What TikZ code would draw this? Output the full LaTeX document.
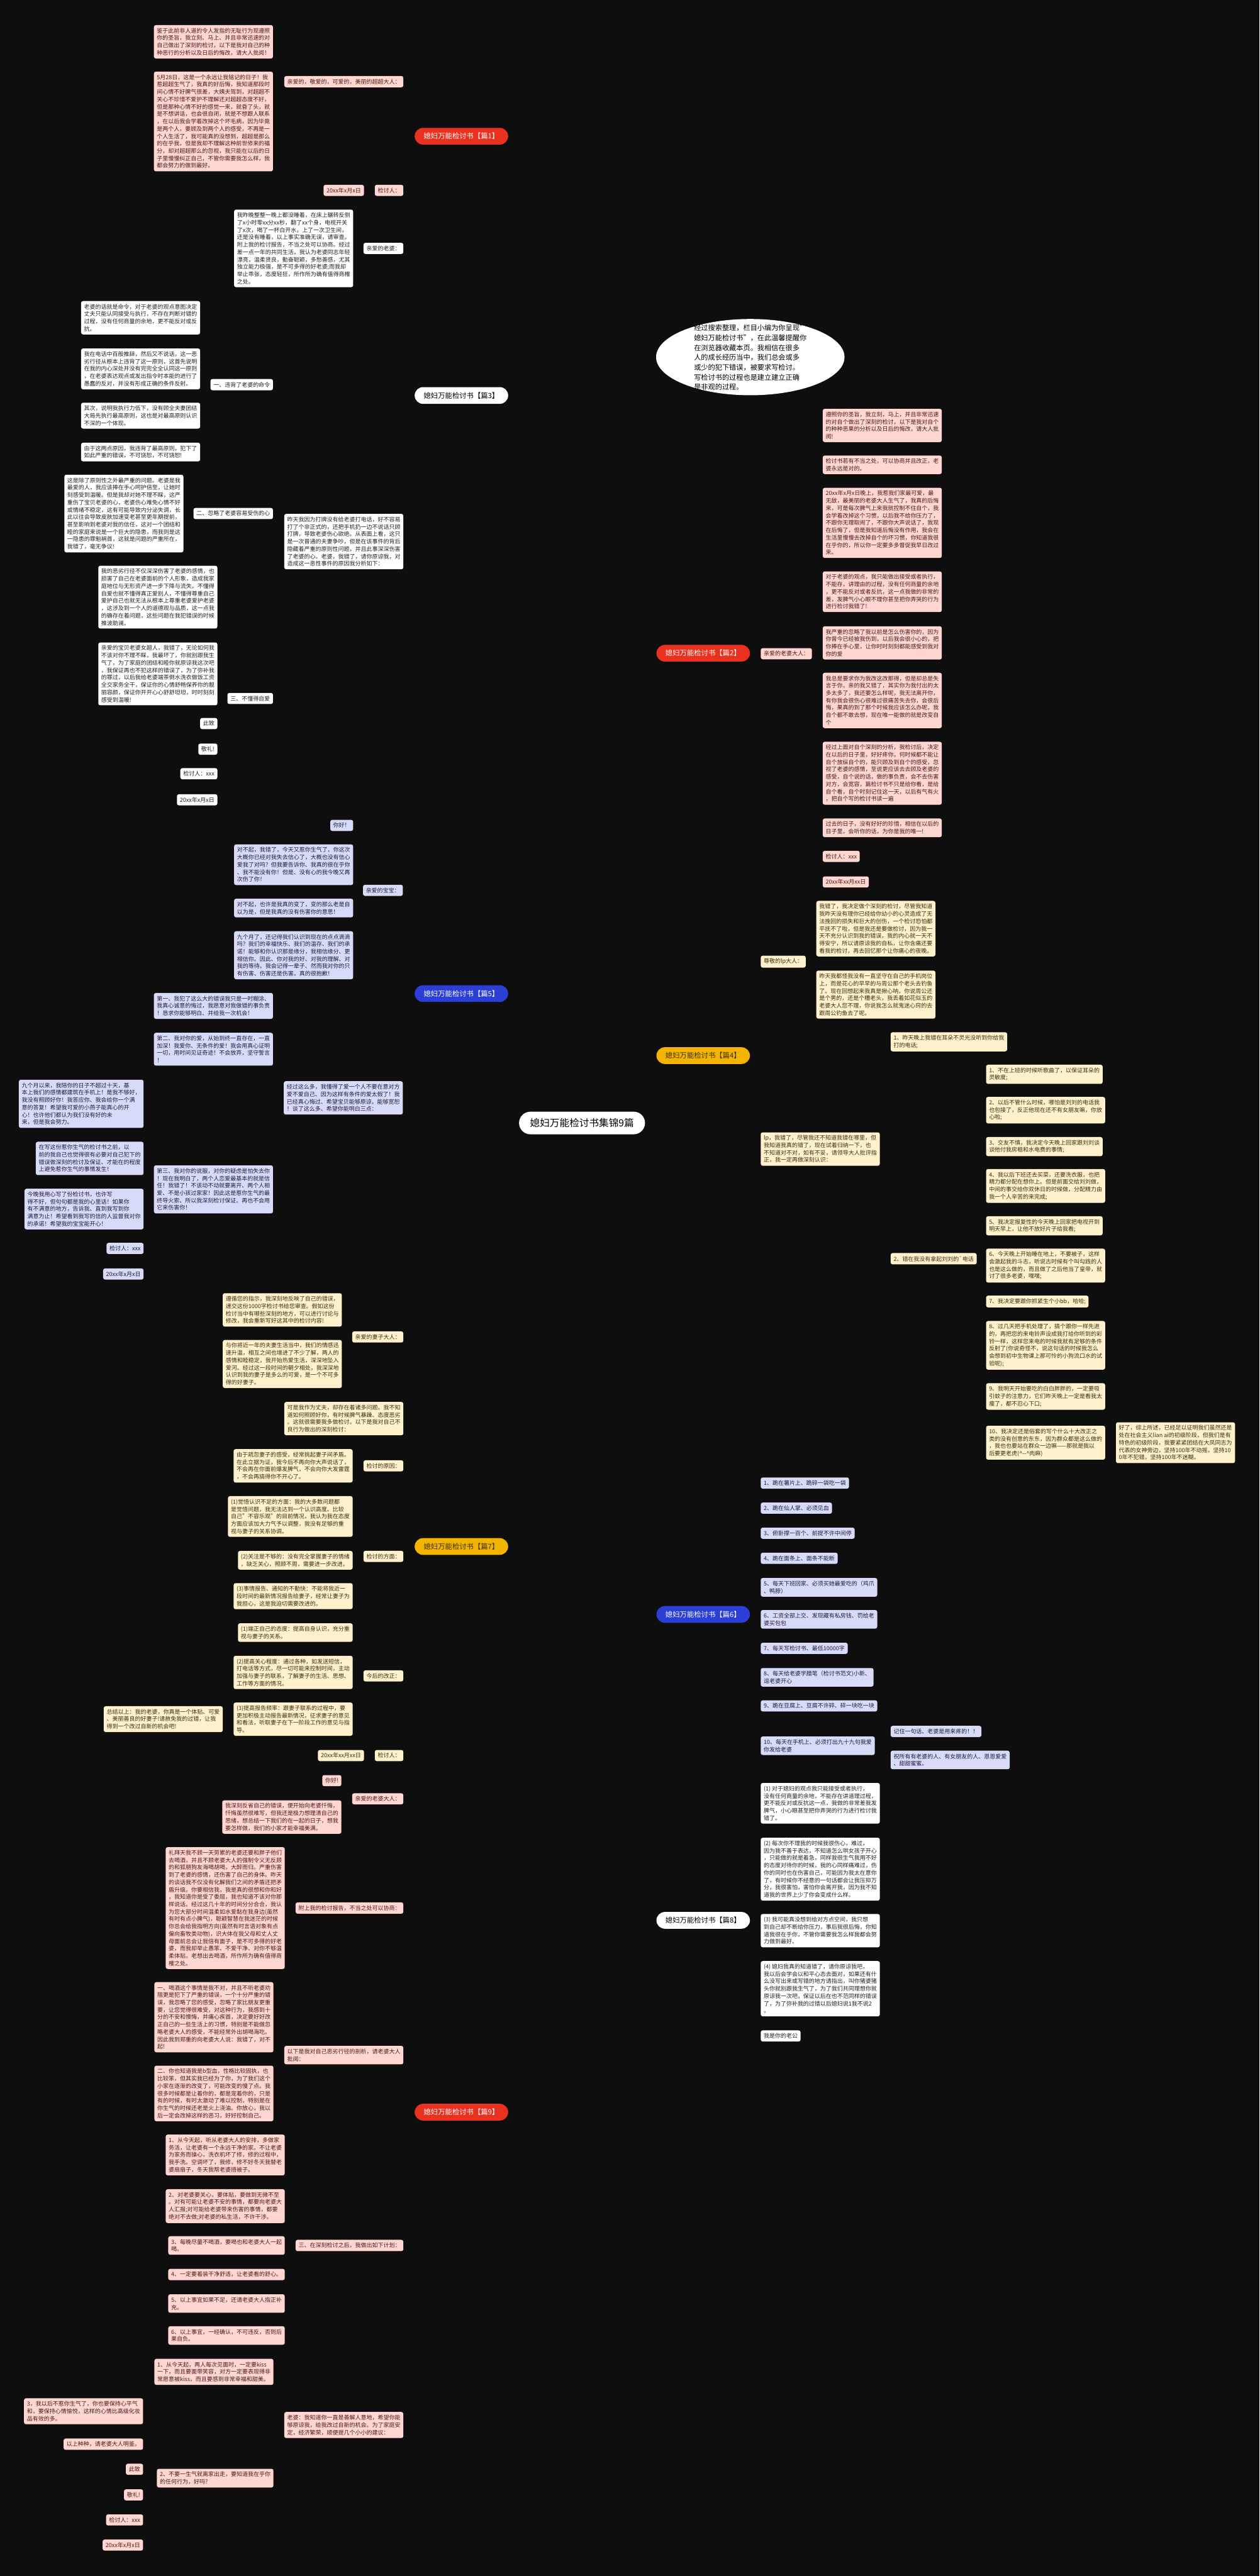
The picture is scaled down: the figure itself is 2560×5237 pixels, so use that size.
\documentclass[tikz,border=0pt]{standalone}
\usepackage{fontspec}
\setmainfont{Noto Sans CJK SC}
\usetikzlibrary{shapes.geometric,calc}
\definecolor{bgc}{HTML}{0E0E0E}
\definecolor{rmain}{HTML}{E8321F}
\definecolor{rline}{HTML}{E23A2A}
\definecolor{rfill}{HTML}{FFD6D1}
\definecolor{rtext}{HTML}{4A1C16}
\definecolor{wline}{HTML}{EEEEEE}
\definecolor{wtext}{HTML}{222222}
\definecolor{bmain}{HTML}{2B3FD6}
\definecolor{bline}{HTML}{3447DB}
\definecolor{bfill}{HTML}{D8DBF8}
\definecolor{btext}{HTML}{1D1D40}
\definecolor{ymain}{HTML}{F2B400}
\definecolor{yline}{HTML}{F0B90C}
\definecolor{yfill}{HTML}{FFF1CC}
\definecolor{ytext}{HTML}{3A2E10}
\newcommand\boxfont{\fontsize{11.5pt}{15pt}\selectfont}
\newcommand\labfont{\fontsize{14.5pt}{18pt}\selectfont}
\newcommand\ellfont{\fontsize{14.3pt}{20pt}\selectfont}
\newcommand\rootfont{\fontsize{20pt}{22pt}\selectfont}
\newcommand\lnkL[4][]{\draw[#1] (#2.west) -- (#3,0 |- #2.west) |- (#4.east);}
\newcommand\lnkR[4][]{\draw[#1] (#2.east) -- (#3,0 |- #2.east) |- (#4.west);}
\pgfdeclarelayer{back}
\pgfsetlayers{back,main}
\tikzset{
 box/.style={rounded corners=4pt, align=left, inner xsep=6pt, inner ysep=6pt, font=\boxfont},
 rb/.style={box, fill=rfill, text=rtext},
 wb/.style={box, fill=white, text=wtext},
 bb/.style={box, fill=bfill, text=btext},
 yb/.style={box, fill=yfill, text=ytext},
 lab/.style={rounded corners=17pt, minimum height=34pt, minimum width=190pt, inner xsep=10pt, font=\labfont},
 rlab/.style={lab, fill=rmain, text=white},
 wlab/.style={lab, fill=white, text=black},
 blab/.style={lab, fill=bmain, text=white},
 ylab/.style={lab, fill=ymain, text=ytext},
 rl/.style={draw=rline, line width=2pt, rounded corners=6pt},
 wl/.style={draw=wline, line width=2pt, rounded corners=6pt},
 bl/.style={draw=bline, line width=2pt, rounded corners=6pt},
 yl/.style={draw=yline, line width=2pt, rounded corners=6pt},
 mainline/.style={line width=2.5pt},
 LE/.style={anchor=east},
 RW/.style={anchor=west},
}
\begin{document}
\begin{tikzpicture}[x=1pt,y=-1pt]
\fill[bgc] (0,0) rectangle (2560,5237);
\useasboundingbox (0,0) rectangle (2560,5237);

% ---------------- root and intro
\node[fill=white, rounded corners=23pt, minimum width=256pt, minimum height=46pt, font=\rootfont, text=black] (root) at (1183,2283) {媳妇万能检讨书集锦9篇};
\node[ellipse, fill=white, minimum width=383pt, minimum height=155pt, inner sep=0pt] (ell) at (1525,726) {};
\node[align=left, font=\ellfont, text=black, inner sep=0pt] (elltext) at (1525,727) {经过搜索整理，栏目小编为你呈现"\\媳妇万能检讨书"，在此温馨提醒你\\在浏览器收藏本页。我相信在很多\\人的成长经历当中，我们总会或多\\或少的犯下错误，被要求写检讨。\\写检讨书的过程也是建立建立正确\\是非观的过程。};

% ---------------- branch labels
\node[rlab, anchor=east] (L1) at (1033,277) {媳妇万能检讨书【篇1】};
\node[wlab, anchor=east] (L3) at (1033,804) {媳妇万能检讨书【篇3】};
\node[blab, anchor=east] (L5) at (1033,2020) {媳妇万能检讨书【篇5】};
\node[ylab, anchor=east] (L7) at (1033,3144) {媳妇万能检讨书【篇7】};
\node[rlab, anchor=east] (L9) at (1033,4294) {媳妇万能检讨书【篇9】};
\node[rlab, anchor=west] (R2) at (1334,1328) {媳妇万能检讨书【篇2】};
\node[ylab, anchor=west] (R4) at (1334,2146) {媳妇万能检讨书【篇4】};
\node[blab, anchor=west] (R6) at (1334,3282) {媳妇万能检讨书【篇6】};
\node[wlab, anchor=west] (R8) at (1334,3904) {媳妇万能检讨书【篇8】};

% ---------------- 篇1
\node[rb, LE] (a1) at (820,166) {亲爱的，敬爱的，可爱的，美丽的超超大人：};
\node[rb, LE] (a11) at (555,85) {鉴于此前非人道的令人发指的无耻行为现遵照\\你的圣旨，我立刻、马上、并且非常迅速的对\\自己做出了深刻的检讨，以下是我对自己的种\\种恶行的分析以及日后的悔改，请大人批阅！};
\node[rb, LE] (a12) at (555,247) {5月28日，这是一个永远让我铭记的日子！我\\惹超超生气了，我真的好后悔，我知道那段时\\间心情不好脾气很差，大姨夫驾到，对超超不\\关心不珍惜不爱护不理解还对超超态度不好，\\但是那种心情不好的感觉一来，就昏了头，就\\是不想讲话，也会很自闭，就是不想跟人联系\\，在以后我会学着改掉这个坏毛病，因为毕竟\\是两个人，要顾及到两个人的感受，不再是一\\个人生活了，我可能真的没想到，超超是那么\\的在乎我，但是我却不理解这种前世修来的福\\分，却对超超那么的忽视，我只能在以后的日\\子里慢慢纠正自己，不管你需要我怎么样，我\\都会努力的做到最好。};
\node[rb, LE] (a2) at (820,387) {检讨人：};
\node[rb, LE] (a21) at (740,387) {20xx年x月x日};

% ---------------- 篇3
\node[wb, LE] (b1) at (820,505) {亲爱的老婆：};
\node[wb, LE] (b11) at (718,505) {我昨晚整整一晚上都没睡着，在床上辗转反侧\\了x小时零xx分xx秒，翻了xx个身，电视开关\\了x次，喝了一杯白开水，上了一次卫生间，\\还是没有睡着，以上事实准确无误，请审查。\\附上我的检讨报告，不当之处可以协商。经过\\差一点一年的共同生活，我认为老婆同志年轻\\漂亮，温柔贤良，勤奋聪颖，多愁善感，尤其\\独立能力极强，是不可多得的好老婆;而我却\\举止乖张，态度轻狂，所作所为确有值得商榷\\之处。};
\node[wb, LE] (b2) at (820,1101) {昨天我因为打牌没有给老婆打电话，好不容易\\打了个非正式的，还把手机扔一边不说话只顾\\打牌，导致老婆伤心欲绝。从表面上看，这只\\是一次普通的夫妻争吵，但是在该事件的背后\\隐藏着严重的原则性问题，并且此事深深伤害\\了老婆的心。老婆，我错了，请你原谅我，对\\造成这一恶性事件的原因我分析如下：};
\node[wb, LE] (b21) at (555,782) {一、违背了老婆的命令};
\node[wb, LE] (b211) at (407,646) {老婆的话就是命令，对于老婆的观点意图决定\\丈夫只能认同接受与执行，不存在判断对错的\\过程，没有任何商量的余地，更不能反对或反\\抗。};
\node[wb, LE] (b212) at (407,750) {我在电话中百般推辞，然后又不说话，这一恶\\劣行径从根本上违背了这一原则，这首先说明\\在我的内心深处并没有完完全全认同这一原则\\，在老婆表达观点或发出指令时本能的进行了\\愚蠢的反对，并没有形成正确的条件反射。};
\node[wb, LE] (b213) at (407,845) {其次，说明我执行力低下，没有顾全夫妻团结\\大局先执行最高原则，这也是对最高原则认识\\不深的一个体现。};
\node[wb, LE] (b214) at (407,919) {由于这两点原因，我违背了最高原则，犯下了\\如此严重的错误，不可饶恕，不可饶恕!};
\node[wb, LE] (b22) at (555,1044) {二、忽略了老婆容易受伤的心};
\node[wb, LE] (b221) at (373,1044) {这是除了原则性之外最严重的问题。老婆是我\\最爱的人，我应该捧在手心呵护倍至，让她时\\刻感受到温暖。但是我却对她不理不睬，这严\\重伤了宝贝老婆的心，老婆伤心难免心情不好\\或情绪不稳定，这有可能导致内分泌失调，长\\此以往会导致皮肤加速变老甚至更年期提前，\\甚至影响到老婆对我的信任，这对一个团结和\\睦的家庭来说是一个巨大的隐患，而我则是这\\一隐患的罪魁祸首，这就是问题的严重所在，\\我错了，毫无争议!};
\node[wb, LE] (b23) at (555,1420) {三、不懂得自爱};
\node[wb, LE] (b231) at (442,1214) {我的恶劣行径不仅深深伤害了老婆的感情，也\\损害了自己在老婆面前的个人形象，造成我家\\庭地位与无形资产进一步下降与流失。不懂得\\自爱也就不懂得真正爱别人，不懂得尊重自己\\爱护自己也就无法从根本上尊重老婆爱护老婆\\，这涉及到一个人的道德观与品质，这一点我\\的确存在着问题，这些问题在我犯错误的时候\\推波助澜。};
\node[wb, LE] (b232) at (442,1370) {亲爱的宝贝老婆女超人，我错了，无论如何我\\不该对你不理不睬，我最坏了，你就别跟我生\\气了，为了家庭的团结和睦你就原谅我这次吧\\，我保证再也不犯这样的错误了，为了弥补我\\的罪过，以后我给老婆端茶倒水洗衣做饭工资\\全交家务全干，保证你的心情舒畅保养你的靓\\丽容颜，保证你开开心心舒舒坦坦，时时刻刻\\感受到温暖!};
\node[wb, LE] (b233) at (442,1471) {此致};
\node[wb, LE] (b234) at (442,1523) {敬礼!};
\node[wb, LE] (b235) at (442,1573) {检讨人：xxx};
\node[wb, LE] (b236) at (442,1626) {20xx年x月x日};

% ---------------- 篇5
\node[bb, LE] (c1) at (819,1810) {亲爱的宝宝：};
\node[bb, LE] (c11) at (718,1678) {你好！};
\node[bb, LE] (c12) at (718,1758) {对不起，我错了，今天又惹你生气了，你这次\\大概你已经对我失去信心了，大概也没有信心\\爱我了对吗？但我要告诉你、我真的很在乎你\\、我不能没有你！但是、没有心的我今晚又再\\次伤了你！};
\node[bb, LE] (c13) at (718,1846) {对不起，也许是我真的变了，变的那么老是自\\以为是，但是我真的没有伤害你的意思！};
\node[bb, LE] (c14) at (718,1942) {九个月了，还记得我们认识到现在的点点滴滴\\吗？我们的幸福快乐、我们的温存、我们的承\\诺！能够和你认识那是缘分，我相信缘分、更\\相信你。因此、你对我的好、对我的理解、对\\我的等待。我会记得一辈子、然而我对你的只\\有伤害、伤害还是伤害。真的很抱歉！};
\node[bb, LE] (c2) at (819,2232) {经过这么多，我懂得了爱一个人不要在意对方\\爱不爱自己、因为这样有条件的爱太假了！我\\已经真心悔过、希望宝贝能够原谅，能够宽恕\\！谈了这么多、希望你能明白三点：};
\node[bb, LE] (c21) at (555,2045) {第一、我犯了这么大的错误我只是一时糊涂、\\我真心诚意的悔过，我愿意对我做错的事负责\\！恳求你能够明白、并给我一次机会！};
\node[bb, LE] (c22) at (555,2133) {第二、我对你的爱，从始到终一直存在，一直\\加深！我爱你、无条件的爱！我会用真心证明\\一切，用时间见证奇迹！不会放弃，坚守誓言\\！};
\node[bb, LE] (c23) at (555,2418) {第三、我对你的说服，对你的疑虑是怕失去你\\！现在我明白了，两个人恋爱最基本的就是信\\任！我错了！不该动不动就要离开、两个人相\\爱、不是小孩过家家！因此这是惹你生气的最\\终导火索、所以我深刻检讨保证、再也不会用\\它来伤害你！};
\node[bb, LE] (c231) at (292,2244) {九个月以来，我陪你的日子不超过十天，基\\本上我们的感情都建筑在手机上！是我不够好，\\我没有照顾好你！我答应你、我会给你一个满\\意的答复！希望我可爱的小燕子能真心的开\\心！也许他们都认为我们没有好的未\\来，但是我会努力。};
\node[bb, LE] (c232) at (292,2355) {在写这份惹你生气的检讨书之前，以\\前的我自己也觉得很有必要对自己犯下的\\错误做深刻的检讨及保证、才能在的程度\\上避免惹你生气的事情发生！};
\node[bb, LE] (c233) at (292,2458) {今晚我用心写了份检讨书，也许写\\得不好，但句句都是我的心里话！如果你\\有不满意的地方，告诉我、直到我写到你\\满意为止！希望看到我写的信的人监督我对你\\的承诺！希望我的宝宝能开心！};
\node[bb, LE] (c234) at (292,2538) {检讨人：xxx};
\node[bb, LE] (c235) at (292,2590) {20xx年x月x日};

% ---------------- 篇7
\node[yb, LE] (d1) at (820,2718) {亲爱的妻子大人：};
\node[yb, LE] (d11) at (695,2663) {遵循您的指示，我深刻地反映了自己的错误，\\递交这份1000字检讨书给您审查。假如这份\\检讨当中有哪些深刻的地方，可以进行讨论与\\修改，我会重新写好这其中的检讨内容!};
\node[yb, LE] (d12) at (695,2773) {与你将近一年的夫妻生活当中，我们的情感迅\\速升温，相互之间也增进了不少了解，两人的\\感情和睦稳定，我开始热爱生活，深深地坠入\\爱河。经过这一段时间的朝夕相处，我深深地\\认识到我的妻子是多么的可爱，是一个不可多\\得的好妻子。};
\node[yb, LE] (d2) at (820,2884) {可是我作为丈夫，却存在着诸多问题。我不知\\道如何照顾好你，有时候脾气暴躁、态度恶劣\\。这就很需要我多做检讨。以下是我对自己不\\良行为做出的深刻检讨：};
\node[yb, LE] (d3) at (820,2980) {检讨的原因：};
\node[yb, LE] (d31) at (717,2980) {由于疏忽妻子的感受，经常挑起妻子间矛盾。\\在此立据为证，我今后不再向你大声说话了，\\不会再在你面前爆发脾气，不会向你大发雷霆\\，不会再搞得你不开心了。};
\node[yb, LE] (d4) at (820,3164) {检讨的方面：};
\node[yb, LE] (d41) at (717,3083) {(1)觉悟认识不足的方面：我的大多数问题都\\是觉悟问题，我无法达到一个认识高度。比较\\自己"不容乐观"的目前情况，我认为我在态度\\方面应该加大力气予以调整，我没有足够的重\\视与妻子的关系协调。};
\node[yb, LE] (d42) at (717,3172) {(2)关注是不够的：没有完全掌握妻子的情绪\\，缺乏关心，照顾不周，需要进一步改进。};
\node[yb, LE] (d43) at (717,3245) {(3)事情报告、通知的不勤快：不能将我近一\\段时间的最新情况报告给妻子，经常让妻子为\\我担心，这是我迫切需要改进的。};
\node[yb, LE] (d5) at (820,3407) {今后的改正：};
\node[yb, LE] (d51) at (717,3319) {(1)端正自己的态度：提高自身认识，充分重\\视与妻子的关系。};
\node[yb, LE] (d52) at (717,3400) {(2)提高关心程度：通过各种，如发送短信，\\打电话等方式，尽一切可能来控制时间，主动\\加强与妻子的联系，了解妻子的生活、思想、\\工作等方面的情况。};
\node[yb, LE] (d53) at (717,3495) {(3)提高报告频率：跟妻子联系的过程中，要\\更加积极主动报告最新情况，征求妻子的意见\\和看法，听取妻子在下一阶段工作的意见与指\\导。};
\node[yb, LE] (d531) at (453,3495) {总结以上：我的老婆，你真是一个体贴、可爱\\、美丽善良的好妻子!请赦免我的过错，让我\\得到一个改过自新的机会吧!};
\node[yb, LE] (d6) at (820,3569) {检讨人：};
\node[yb, LE] (d61) at (740,3569) {20xx年xx月xx日};

% ---------------- 篇9
\node[rb, LE] (e1) at (820,3657) {亲爱的老婆大人：};
\node[rb, LE] (e11) at (694,3620) {你好!};
\node[rb, LE] (e12) at (694,3694) {我深刻反省自己的错误，便开始向老婆忏悔，\\忏悔虽然很难写，但我还是极力想理清自己的\\思绪，想总结一下我们的在一起的日子，想我\\要怎样做，我们的小家才能幸福美满。};
\node[rb, LE] (e2) at (820,3879) {附上我的检讨报告，不当之处可以协商：};
\node[rb, LE] (e21) at (579,3879) {礼拜天我不顾一天劳累的老婆还要和胖子他们\\去喝酒，并且不顾老婆大人的强制令义无反顾\\的和狐朋狗友海喝胡喝，大醉而归。严重伤害\\到了老婆的感情，还伤害了自己的身体。昨天\\的谈话我不仅没有化解我们之间的矛盾还把矛\\盾升级。你要相信我，我是真的很想和你和好\\，我知道你是受了委屈，我也知道不该对你那\\样说话。经过这几十年的时间分分合合，我认\\为您大部分时间温柔如水爱黏在我身边(虽然\\有时有点小脾气)，聪颖智慧在我迷茫的时候\\你总会给我指明方向(虽然有时言语对象有点\\偏向畜牧类动物)，识大体在我父母和丈人丈\\母面前总会让我倍有面子，是不可多得的好老\\婆，而我却举止愚笨、不爱干净、对你不够温\\柔体贴，老想出去喝酒，所作所为确有值得商\\榷之处。};
\node[rb, LE] (e3) at (820,4178) {以下是我对自己恶劣行径的剖析，请老婆大人\\批阅：};
\node[rb, LE] (e31) at (556,4101) {一、喝酒这个事情是我不对，并且不听老婆劝\\阻更是犯下了严重的错误，一个十分严重的错\\误，我忽略了您的感受，忽略了家比朋友更重\\要，让您觉得很难受，对这种行为，我感到十\\分的不安和懊悔，并痛心疾首，决定要好好改\\正自己的一些生活上的习惯，特别是不能做忽\\略老婆大人的感受，不能经常外出胡喝海吃。\\因此我到郑重的向老婆大人说：我错了，对不\\起!};
\node[rb, LE] (e32) at (556,4256) {二、你也知道我是b型血，性格比较固执，也\\比较笨，但其实我已经为了你，为了我们这个\\小家在逐渐的改变了，可能改变的慢了点。我\\很多时候都是让着你的，都是宠着你的，只是\\有的时候，有时太激动了难以控制，特别是在\\你生气的时候还老是火上浇油。你放心，我以\\后一定会改掉这样的恶习，好好控制自己。};
\node[rb, LE] (e4) at (820,4565) {三、在深刻检讨之后，我做出如下计划：};
\node[rb, LE] (e41) at (579,4381) {1、从今天起，听从老婆大人的安排，多做家\\务活，让老婆有一个永远干净的家。不让老婆\\为家务而操心，洗衣机坏了修，修的过程中，\\我手洗。空调坏了，我修，修不好冬天我替老\\婆扇扇子，冬天我帮老婆捂被子。};
\node[rb, LE] (e42) at (579,4485) {2、对老婆要关心，要体贴，要做到无微不至\\。对有可能让老婆不安的事情，都要向老婆大\\人汇报;对可能给老婆带来伤害的事情，都要\\绝对不去做;对老婆的私生活，不许干涉。};
\node[rb, LE] (e43) at (579,4565) {3、每晚尽量不喝酒，要喝也和老婆大人一起\\喝。};
\node[rb, LE] (e44) at (579,4624) {4、一定要着装干净舒适，让老婆看的舒心。};
\node[rb, LE] (e45) at (579,4683) {5、以上事宜如果不足，还请老婆大人指正补\\充。};
\node[rb, LE] (e46) at (579,4748) {6、以上事宜，一经确认，不可违反，否则后\\果自负。};
\node[rb, LE] (e5) at (820,4930) {老婆：我知道你一直是善解人意地，希望你能\\够原谅我，给我改过自新的机会。为了家庭安\\定，经济繁荣，顺便提几个小小的建议：};
\node[rb, LE] (e51) at (556,4822) {1、从今天起，两人每次见面时，一定要kiss\\一下，而且要面带笑容，对方一定要表现得非\\常愿意被kiss，而且要感到非常幸福和甜美。};
\node[rb, LE] (e52) at (556,5038) {2、不要一生气就离家出走，要知道我在乎你\\的任何行为，好吗?};
\node[rb, LE] (e521) at (291,4902) {3，我以后不惹你生气了，你也要保持心平气\\和，要保持心情愉悦，这样的心情比高级化妆\\品有效的多。};
\node[rb, LE] (e522) at (291,4969) {以上种种，请老婆大人明鉴。};
\node[rb, LE] (e523) at (291,5020) {此致};
\node[rb, LE] (e524) at (291,5072) {敬礼!};
\node[rb, LE] (e525) at (291,5123) {检讨人：xxx};
\node[rb, LE] (e526) at (291,5174) {20xx年x月x日};

% ---------------- 篇2
\node[rb, RW] (f1) at (1546,1329) {亲爱的老婆大人：};
\node[rb, RW] (f11) at (1672,865) {遵照你的圣旨，我立刻，马上，并且非常迅速\\的对自个做出了深刻的检讨，以下是我对自个\\的种种恶果的分析以及日后的悔改，请大人批\\阅!};
\node[rb, RW] (f12) at (1672,945) {检讨书若有不当之处，可以协商并且改正，老\\婆永远是对的。};
\node[rb, RW] (f13) at (1672,1063) {20xx年x月x日晚上，我惹我们家最可爱，最\\无敌，最美丽的老婆大人生气了，我真的后悔\\来，可是每次脾气上来我就控制不住自个，我\\会学着改掉这个习惯，以后我不给你压力了，\\不跟你无理取闹了，不跟你大声说话了，我现\\在后悔了，但是我知道后悔没有作用，我会在\\生活里慢慢去改掉自个的坏习惯，你知道我很\\在乎你的，所以你一定要多多督促我早日改过\\来。};
\node[rb, RW] (f14) at (1672,1203) {对于老婆的观点，我只能做出接受或者执行，\\不能存，讲理由的过程，没有任何商量的余地\\，更不能反对或者反抗，这一点我做的非常的\\差，发脾气小心眼不理你甚至把你弄哭的行为\\进行检讨我错了!};
\node[rb, RW] (f15) at (1672,1307) {我严重的忽略了我以前是怎么伤害你的，因为\\你曾今已经被我伤到，以后我会很小心的，把\\你捧在手心里，让你时时刻刻都能感受到我对\\你的爱};
\node[rb, RW] (f16) at (1672,1424) {我总是要求你为我改这改那得，但是却总是失\\言于你，亲的我又错了，其实你为我付出的太\\多太多了，我还要怎么样呢，我无法离开你，\\有你我会很伤心很难过很痛苦失去你，会很后\\悔，果真的到了那个时候我应该怎么办呢，我\\自个都不敢去想，现在唯一能做的就是改变自\\个};
\node[rb, RW] (f17) at (1672,1572) {经过上面对自个深刻的分析，我检讨后，决定\\在以后的日子里，好好疼你，何时候都不能让\\自个放纵自个的，能只顾及到自个的感受，忽\\视了老婆的感情，至说更应该去去顾及老婆的\\感受，自个说的话，做的事负责，会不去伤害\\对方，会宽容，篇检讨书不只是给你看，是给\\自个看，自个时刻记住这一天，以后有气有火\\，把自个写的检讨书读一遍};
\node[rb, RW] (f18) at (1672,1683) {过去的日子，没有好好的珍惜，相信在以后的\\日子里，会听你的话，为你是我的唯一!};
\node[rb, RW] (f19) at (1672,1741) {检讨人：xxx};
\node[rb, RW] (f110) at (1672,1793) {20xx年xx月xx日};

% ---------------- 篇4
\node[yb, RW] (g1) at (1546,1955) {尊敬的lp大人：};
\node[yb, RW] (g11) at (1659,1888) {我错了，我决定做个深刻的检讨，尽管我知道\\我昨天没有理你已经给你幼小的心灵造成了无\\法挽回的损失和巨大的创伤，一个检讨恐怕都\\平抚不了啦，但是我还是要做检讨，因为我一\\天不充分认识到我的错误，我的内心就一天不\\得安宁，所以请原谅我的自私，让你含痛还要\\看我的检讨，再去回忆那个让你痛心的夜晚。};
\node[yb, RW] (g12) at (1659,2022) {昨天我都怪我没有一直坚守在自己的手机岗位\\上，而是花心的早早的与周公那个老头去钓鱼\\了。现在回想起来我真是揪心呐，你说周公还\\是个男的，还是个糟老头，我丢着如花似玉的\\老婆大人您不理，你说我怎么就鬼迷心窍的去\\跟周公钓鱼去了呢。};
\node[yb, RW] (g2) at (1546,2336) {lp，我错了，尽管我还不知道我错在哪里，但\\我知道我真的错了，现在试着归纳一下，也\\不知道对不对，如有不妥，请领导大人批评指\\正，我一定再做深刻认识：};
\node[yb, RW] (g21) at (1810,2118) {1、昨天晚上我错在耳朵不灵光没听到你给我\\打的电话;};
\node[yb, RW] (g22) at (1810,2559) {2、错在我没有拿起刘刘的\textasciigrave 电话};
\node[yb, RW] (g221) at (2004,2184) {1、不在上班的时候听歌曲了，以保证耳朵的\\灵敏度;};
\node[yb, RW] (g222) at (2004,2257) {2、以后不管什么时候，哪怕是刘刘的电话我\\也包接了，反正他现在还不有女朋友嘛，你放\\心啦;};
\node[yb, RW] (g223) at (2004,2331) {3、交友不慎，我决定今天晚上回家跟刘刘谈\\谈他付我房租和水电费的事情;};
\node[yb, RW] (g224) at (2004,2411) {4、我以后下班还去买菜，还要洗衣服，也把\\精力都分配在想你上。但是前面交给刘刘做，\\中间的事交给你双休日的时候做，分配精力由\\我一个人辛苦的来完成;};
\node[yb, RW] (g225) at (2004,2492) {5、我决定报复性的今天晚上回家把电视开到\\明天早上，让他不放好片子给我看;};
\node[yb, RW] (g226) at (2004,2573) {6、今天晚上开始睡在地上，不要被子，这样\\会激起我的斗志，听说古时候有个叫勾践的人\\也是这么做的，而且做了之后他当了皇帝，就\\讨了很多老婆，嘿嘿;};
\node[yb, RW] (g227) at (2004,2646) {7、我决定要跟你抓紧生个小bb，哈哈;};
\node[yb, RW] (g228) at (2004,2735) {8、过几天把手机处理了，搞个跟你一样先进\\的，再把您的来电铃声设成我打给你听到的彩\\铃一样，这样您来电的时候我就有足够的条件\\反射了(你说奇怪不，说这句话的时候我怎么\\会想到初中生物课上那可怜的小狗流口水的试\\验呢);};
\node[yb, RW] (g229) at (2004,2839) {9、我明天开始要吃的白白胖胖的，一定要吸\\引蚊子的注意力，它们昨天晚上一定是看我太\\瘦了，都不忍心下口;};
\node[yb, RW] (g2210) at (2004,2933) {10、我决定还是俗套的写个什么十大改正之\\类的没有创意的东东，因为群众都是这么做的\\，我也也要站在群众一边嘛——那就是我以\\后要更老虎(\textasciicircum-{}-\textasciicircum 肉麻)};
\node[yb, RW] (g3) at (2268,2933) {好了，综上所述，已经足以证明我们虽然还是\\处在社会主义lian ai的初级阶段，但我们是有\\特色的初级阶段，我要紧紧团结在大凤同志为\\代表的女神旁边，坚持100年不动摇，坚持10\\0年不犯错，坚持100年不迷糊。};

% ---------------- 篇6
\node[bb, RW] (h1) at (1546,3015) {1、跪在薯片上、跪碎一袋吃一袋};
\node[bb, RW] (h2) at (1546,3066) {2、跪在仙人掌、必须见血};
\node[bb, RW] (h3) at (1546,3117) {3、俯卧撑一百个、前提不许中间停};
\node[bb, RW] (h4) at (1546,3168) {4、跪在面条上、面条不能断};
\node[bb, RW] (h5) at (1546,3227) {5、每天下班回家、必须买她最爱吃的（鸡爪\\、鸭脖）};
\node[bb, RW] (h6) at (1546,3292) {6、工资全部上交、发现藏有私房钱、罚给老\\婆买包包};
\node[bb, RW] (h7) at (1546,3351) {7、每天写检讨书、最低10000字};
\node[bb, RW] (h8) at (1546,3410) {8、每天给老婆学腊笔（检讨书范文)小新、\\逗老婆开心};
\node[bb, RW] (h9) at (1546,3468) {9、跪在豆腐上、豆腐不许碎、碎一块吃一块};
\node[bb, RW] (h10) at (1546,3549) {10、每天在手机上、必须打出九十九句我爱\\你发给老婆};
\node[bb, RW] (h101) at (1810,3520) {记住一句话、老婆是用来疼的！！};
\node[bb, RW] (h102) at (1810,3578) {祝所有有老婆的人、有女朋友的人、恩恩爱爱\\、甜甜蜜蜜。};

% ---------------- 篇8
\node[wb, RW] (k1) at (1546,3666) {(1) 对于媳妇的观点我只能接受或者执行，\\没有任何商量的余地，不能存在讲道理过程，\\更不能反对或反抗这一点，我做的非常差我发\\脾气，小心眼甚至把你弄哭的行为进行检讨我\\错了。};
\node[wb, RW] (k2) at (1546,3800) {(2) 每次你不理我的时候我很伤心，难过，\\因为我不善于表达，不知道怎么哄女孩子开心\\，只能做的就是着急，同样我很生气我用不好\\的态度对待你的时候，我的心同样痛难过，伤\\你的同时也在伤害自己，可能因为我太在意你\\了，有时候你不经意的一句话都会让我压抑万\\分，我很害怕，害怕你会离开我，因为我不知\\道我的世界上少了你会变成什么样。};
\node[wb, RW] (k3) at (1546,3925) {(3) 我可能真没想到给对方点空间，我只想\\到自己却不断给你压力，事后我很后悔，你知\\道我很在乎你，不管你需要我怎么样我都会努\\力做到最好。};
\node[wb, RW] (k4) at (1546,4043) {(4) 媳妇我真的知道错了，请你原谅我吧，\\我以后会学会以和平心态去面对，如果还有什\\么没写出来或写错的地方请指出，叫你猪婆猪\\头你就别跟我生气了，为了我们共同理想你就\\原谅我一次吧，保证以后在也不范同样的错误\\了，为了弥补我的过错以后媳妇说1我不说2\\。};
\node[wb, RW] (k5) at (1546,4139) {我是你的老公};

% ================= connectors (behind)
\begin{pgfonlayer}{back}
% root to branches (quadratic-like curves from the root's top / bottom centre)
\draw[rline, mainline] (1183,2260) .. controls (1183,938) and (1133,277) .. (L1.east);
\draw[wline, mainline] (1183,2260) .. controls (1183,1289) and (1133,804) .. (L3.east);
\draw[bline, mainline] (1183,2260) .. controls (1183,2100) and (1133,2020) .. (L5.east);
\draw[yline, mainline] (1183,2306) .. controls (1183,2865) and (1133,3144) .. (L7.east);
\draw[rline, mainline] (1183,2306) .. controls (1183,3631) and (1133,4294) .. (L9.east);
\draw[wline, mainline] (1183,2260) .. controls (1183,1237) and (1233,726) .. (ell.west);
\draw[rline, mainline] (1183,2260) .. controls (1183,1639) and (1233,1328) .. (R2.west);
\draw[yline, mainline] (1183,2260) .. controls (1183,2184) and (1233,2146) .. (R4.west);
\draw[bline, mainline] (1183,2306) .. controls (1183,2957) and (1233,3282) .. (R6.west);
\draw[wline, mainline] (1183,2306) .. controls (1183,3371) and (1233,3904) .. (R8.west);

% 篇1
\lnkL[rl]{L1}{831}{a1}
\lnkL[rl]{L1}{831}{a2}
\lnkL[rl]{a1}{567}{a11}
\lnkL[rl]{a1}{567}{a12}
\draw[rl] (a2.west) -- (a21.east);
% 篇3
\lnkL[wl]{L3}{831}{b1}
\lnkL[wl]{L3}{831}{b2}
\draw[wl] (b1.west) -- (b11.east);
\lnkL[wl]{b2}{566}{b21}
\lnkL[wl]{b2}{566}{b22}
\lnkL[wl]{b2}{566}{b23}
\lnkL[wl]{b21}{419}{b211}
\lnkL[wl]{b21}{419}{b212}
\lnkL[wl]{b21}{419}{b213}
\lnkL[wl]{b21}{419}{b214}
\draw[wl] (b22.west) -- (b221.east);
\lnkL[wl]{b23}{453}{b231}
\lnkL[wl]{b23}{453}{b232}
\lnkL[wl]{b23}{453}{b233}
\lnkL[wl]{b23}{453}{b234}
\lnkL[wl]{b23}{453}{b235}
\lnkL[wl]{b23}{453}{b236}
% 篇5
\lnkL[bl]{L5}{831}{c1}
\lnkL[bl]{L5}{831}{c2}
\lnkL[bl]{c1}{729}{c11}
\lnkL[bl]{c1}{729}{c12}
\lnkL[bl]{c1}{729}{c13}
\lnkL[bl]{c1}{729}{c14}
\lnkL[bl]{c2}{567}{c21}
\lnkL[bl]{c2}{567}{c22}
\lnkL[bl]{c2}{567}{c23}
\lnkL[bl]{c23}{303}{c231}
\lnkL[bl]{c23}{303}{c232}
\lnkL[bl]{c23}{303}{c233}
\lnkL[bl]{c23}{303}{c234}
\lnkL[bl]{c23}{303}{c235}
% 篇7
\lnkL[yl]{L7}{831}{d1}
\lnkL[yl]{L7}{831}{d2}
\lnkL[yl]{L7}{831}{d3}
\lnkL[yl]{L7}{831}{d4}
\lnkL[yl]{L7}{831}{d5}
\lnkL[yl]{L7}{831}{d6}
\lnkL[yl]{d1}{706}{d11}
\lnkL[yl]{d1}{706}{d12}
\draw[yl] (d3.west) -- (d31.east);
\lnkL[yl]{d4}{728}{d41}
\lnkL[yl]{d4}{728}{d42}
\lnkL[yl]{d4}{728}{d43}
\lnkL[yl]{d5}{728}{d51}
\lnkL[yl]{d5}{728}{d52}
\lnkL[yl]{d5}{728}{d53}
\draw[yl] (d53.west) -- (d531.east);
\draw[yl] (d6.west) -- (d61.east);
% 篇9
\lnkL[rl]{L9}{831}{e1}
\lnkL[rl]{L9}{831}{e2}
\lnkL[rl]{L9}{831}{e3}
\lnkL[rl]{L9}{831}{e4}
\lnkL[rl]{L9}{831}{e5}
\lnkL[rl]{e1}{705}{e11}
\lnkL[rl]{e1}{705}{e12}
\draw[rl] (e2.west) -- (e21.east);
\lnkL[rl]{e3}{567}{e31}
\lnkL[rl]{e3}{567}{e32}
\lnkL[rl]{e4}{590}{e41}
\lnkL[rl]{e4}{590}{e42}
\draw[rl] (e4.west) -- (e43.east);
\lnkL[rl]{e4}{590}{e44}
\lnkL[rl]{e4}{590}{e45}
\lnkL[rl]{e4}{590}{e46}
\lnkL[rl]{e5}{567}{e51}
\lnkL[rl]{e5}{567}{e52}
\lnkL[rl]{e52}{302}{e521}
\lnkL[rl]{e52}{302}{e522}
\lnkL[rl]{e52}{302}{e523}
\lnkL[rl]{e52}{302}{e524}
\lnkL[rl]{e52}{302}{e525}
\lnkL[rl]{e52}{302}{e526}
% 篇2
\draw[rl] (R2.east) -- (f1.west);
\lnkR[rl]{f1}{1661}{f11}
\lnkR[rl]{f1}{1661}{f12}
\lnkR[rl]{f1}{1661}{f13}
\lnkR[rl]{f1}{1661}{f14}
\lnkR[rl]{f1}{1661}{f15}
\lnkR[rl]{f1}{1661}{f16}
\lnkR[rl]{f1}{1661}{f17}
\lnkR[rl]{f1}{1661}{f18}
\lnkR[rl]{f1}{1661}{f19}
\lnkR[rl]{f1}{1661}{f110}
% 篇4
\lnkR[yl]{R4}{1535}{g1}
\lnkR[yl]{R4}{1535}{g2}
\lnkR[yl]{g1}{1649}{g11}
\lnkR[yl]{g1}{1649}{g12}
\lnkR[yl]{g2}{1800}{g21}
\lnkR[yl]{g2}{1800}{g22}
\lnkR[yl]{g22}{1993}{g221}
\lnkR[yl]{g22}{1993}{g222}
\lnkR[yl]{g22}{1993}{g223}
\lnkR[yl]{g22}{1993}{g224}
\lnkR[yl]{g22}{1993}{g225}
\lnkR[yl]{g22}{1993}{g226}
\lnkR[yl]{g22}{1993}{g227}
\lnkR[yl]{g22}{1993}{g228}
\lnkR[yl]{g22}{1993}{g229}
\lnkR[yl]{g22}{1993}{g2210}
\draw[yl] (g2210.east) -- (g3.west);
% 篇6
\lnkR[bl]{R6}{1535}{h1}
\lnkR[bl]{R6}{1535}{h2}
\lnkR[bl]{R6}{1535}{h3}
\lnkR[bl]{R6}{1535}{h4}
\lnkR[bl]{R6}{1535}{h5}
\lnkR[bl]{R6}{1535}{h6}
\lnkR[bl]{R6}{1535}{h7}
\lnkR[bl]{R6}{1535}{h8}
\lnkR[bl]{R6}{1535}{h9}
\lnkR[bl]{R6}{1535}{h10}
\lnkR[bl]{h10}{1799}{h101}
\lnkR[bl]{h10}{1799}{h102}
% 篇8
\lnkR[wl]{R8}{1535}{k1}
\lnkR[wl]{R8}{1535}{k2}
\lnkR[wl]{R8}{1535}{k3}
\lnkR[wl]{R8}{1535}{k4}
\lnkR[wl]{R8}{1535}{k5}
\end{pgfonlayer}
\end{tikzpicture}
\end{document}
